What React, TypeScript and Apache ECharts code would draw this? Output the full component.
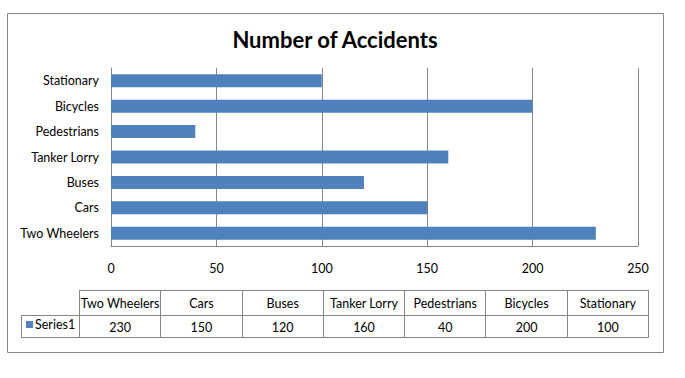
import React, { useEffect, useRef } from "react";
import * as echarts from "echarts";

const title = "Number of Accidents";
const categories = ["Two Wheelers", "Cars", "Buses", "Tanker Lorry", "Pedestrians", "Bicycles", "Stationary"];
const values = [230, 150, 120, 160, 40, 200, 100];
const seriesName = "Series1";
const xMin = 0;
const xMax = 250;
const xInterval = 50;

const FONT = "Lato";
const FS = 12.5;
const BAR = "#4F81BD";
const LINE = "#868686";

export default function App() {
  const ref = useRef<HTMLDivElement>(null);
  useEffect(() => {
    if (!ref.current) return;
    const chart = echarts.init(ref.current, null, { renderer: "svg" });

    const tLeft = 79, tRight = 648, legLeft = 21;
    const rTop = 290, rMid = 315, rBot = 337;
    const colW = (tRight - tLeft) / categories.length;
    const g: any[] = [];
    const ls = { stroke: LINE, lineWidth: 1 };
    g.push({ type: "rect", shape: { x: 7.5, y: 13.5, width: 656, height: 339 }, style: { fill: "none", stroke: LINE, lineWidth: 1 }, silent: true });
    g.push({ type: "text", x: 335, y: 39, style: { text: title, fill: "#000", font: `bold 22px ${FONT}`, align: "center", verticalAlign: "middle" } });
    g.push({ type: "line", shape: { x1: tLeft, y1: rTop + 0.5, x2: tRight, y2: rTop + 0.5 }, style: ls });
    g.push({ type: "line", shape: { x1: legLeft, y1: rMid + 0.5, x2: tRight, y2: rMid + 0.5 }, style: ls });
    g.push({ type: "line", shape: { x1: legLeft, y1: rBot + 0.5, x2: tRight, y2: rBot + 0.5 }, style: ls });
    g.push({ type: "line", shape: { x1: legLeft + 0.5, y1: rMid, x2: legLeft + 0.5, y2: rBot }, style: ls });
    for (let i = 0; i <= categories.length; i++) {
      const x = Math.round(tLeft + i * colW) + 0.5;
      g.push({ type: "line", shape: { x1: x, y1: rTop, x2: x, y2: rBot + 1 }, style: ls });
    }
    categories.forEach((c, i) => {
      const cx = tLeft + (i + 0.5) * colW + 0.5;
      g.push({ type: "text", x: cx, y: (rTop + rMid) / 2 + 1, style: { text: c, fill: "#000", font: `${FS}px ${FONT}`, align: "center", verticalAlign: "middle" } });
      g.push({ type: "text", x: cx, y: (rMid + rBot) / 2 + 1.5, style: { text: String(values[i]), fill: "#000", font: `${FS}px ${FONT}`, align: "center", verticalAlign: "middle" } });
    });
    g.push({ type: "rect", shape: { x: 26, y: 321, width: 7, height: 7 }, style: { fill: BAR } });
    g.push({ type: "text", x: 35, y: 324.5, style: { text: seriesName, fill: "#000", font: `${FS}px ${FONT}`, align: "left", verticalAlign: "middle" } });

    chart.setOption({
      animation: false,
      grid: { left: 111, right: 47, top: 68, bottom: 132, containLabel: false },
      xAxis: {
        type: "value",
        min: xMin,
        max: xMax,
        interval: xInterval,
        axisLine: { show: true, lineStyle: { color: LINE } },
        axisTick: { show: false },
        splitLine: { show: true, lineStyle: { color: LINE } },
        axisLabel: { color: "#000", fontFamily: FONT, fontSize: FS, margin: 16 },
      },
      yAxis: {
        type: "category",
        data: categories,
        axisLine: { show: true, lineStyle: { color: LINE } },
        axisTick: { show: false },
        axisLabel: { color: "#000", fontFamily: FONT, fontSize: FS, margin: 12 },
      },
      series: [
        {
          name: seriesName,
          type: "bar",
          data: values,
          barWidth: 13,
          itemStyle: { color: BAR },
        },
      ],
      graphic: g,
    });
    return () => chart.dispose();
  }, []);
  return <div ref={ref} style={{ position: "fixed", left: 0, top: 0, width: 685, height: 378, background: "#fff" }} />;
}
